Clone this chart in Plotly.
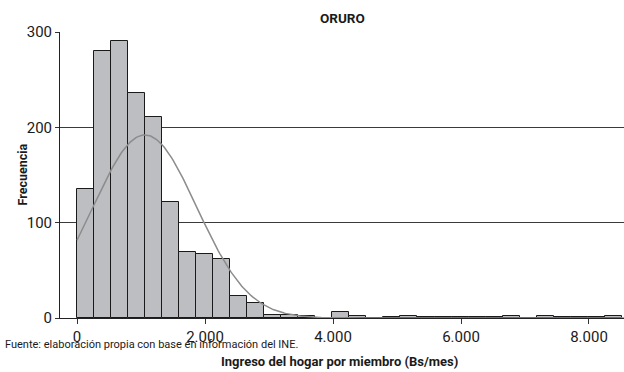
import numpy as np
import plotly.graph_objects as go

# Histogram of household income per member, Oruro
bin_start = 0
bin_width = 266
counts = [135, 280, 291, 236, 211, 122, 69, 67, 62, 23, 16, 3, 3, 2, 0, 6,
          2, 0, 1, 2, 1, 1, 1, 1, 1, 2, 0, 2, 1, 1, 1, 2]

# Fitted normal curve parameters
curve_mean = 1060
curve_sd = 810
curve_peak = 192

x_ticks = [0, 2000, 4000, 6000, 8000]
y_ticks = [0, 100, 200, 300]

edges_left = bin_start + bin_width * np.arange(len(counts))
centers = edges_left + bin_width / 2

xs = np.linspace(0, 8550, 400)
ys = curve_peak * np.exp(-((xs - curve_mean) ** 2) / (2 * curve_sd ** 2))

font_main = "Roboto, Liberation Sans, Arial, sans-serif"
ink = "#1a1a1a"

fig = go.Figure()
fig.add_trace(go.Bar(
    x=centers, y=counts, width=bin_width,
    marker=dict(color="#bdbec2", line=dict(color=ink, width=1)),
    hoverinfo="x+y",
))
fig.add_trace(go.Scatter(
    x=xs, y=ys, mode="lines",
    line=dict(color="#8c8c8c", width=1.5),
    hoverinfo="skip",
))

fig.update_layout(
    width=624, height=372,
    margin=dict(l=60, r=0, t=32, b=54),
    paper_bgcolor="white", plot_bgcolor="white",
    showlegend=False,
    separators=",.",
    bargap=0,
    font=dict(family=font_main, size=15, color=ink),
)

fig.update_xaxes(
    range=[-266, 8547],
    tickvals=x_ticks, tickformat=",d",
    ticks="outside", ticklen=5, tickcolor="#333", tickwidth=1,
    showline=True, linecolor="#222", linewidth=1,
    showgrid=False, zeroline=False,
    tickfont=dict(size=15),
)
fig.update_yaxes(
    range=[0, 300],
    tickvals=y_ticks,
    ticks="outside", ticklen=4, tickcolor="#333", tickwidth=1,
    showline=True, linecolor="#222", linewidth=1,
    showgrid=True, gridcolor="#3a3a3a", gridwidth=1,
    zeroline=False,
    tickfont=dict(size=15),
)

# Title and axis titles
fig.add_annotation(
    text="<b>ORURO</b>",
    xref="paper", yref="paper", x=0.5, y=1, yshift=14,
    xanchor="center", yanchor="middle",
    showarrow=False, font=dict(size=13.5),
)
fig.add_annotation(
    text="<b>Frecuencia</b>", textangle=-90,
    xref="paper", yref="paper", x=0, y=0.5, xshift=-48,
    showarrow=False, font=dict(size=12.5),
)
fig.add_annotation(
    text="<b>Ingreso del hogar por miembro (Bs/mes)</b>",
    xref="paper", yref="paper", x=0.495, y=0, yshift=-43,
    xanchor="center", yanchor="middle",
    showarrow=False, font=dict(size=13),
)
fig.add_annotation(
    text="Fuente: elaboración propia con base en información del INE.",
    xref="paper", yref="paper", x=0, y=0, xshift=-57, yshift=-26,
    xanchor="left", yanchor="middle",
    showarrow=False, font=dict(size=11),
)

fig.write_html("out.html")
